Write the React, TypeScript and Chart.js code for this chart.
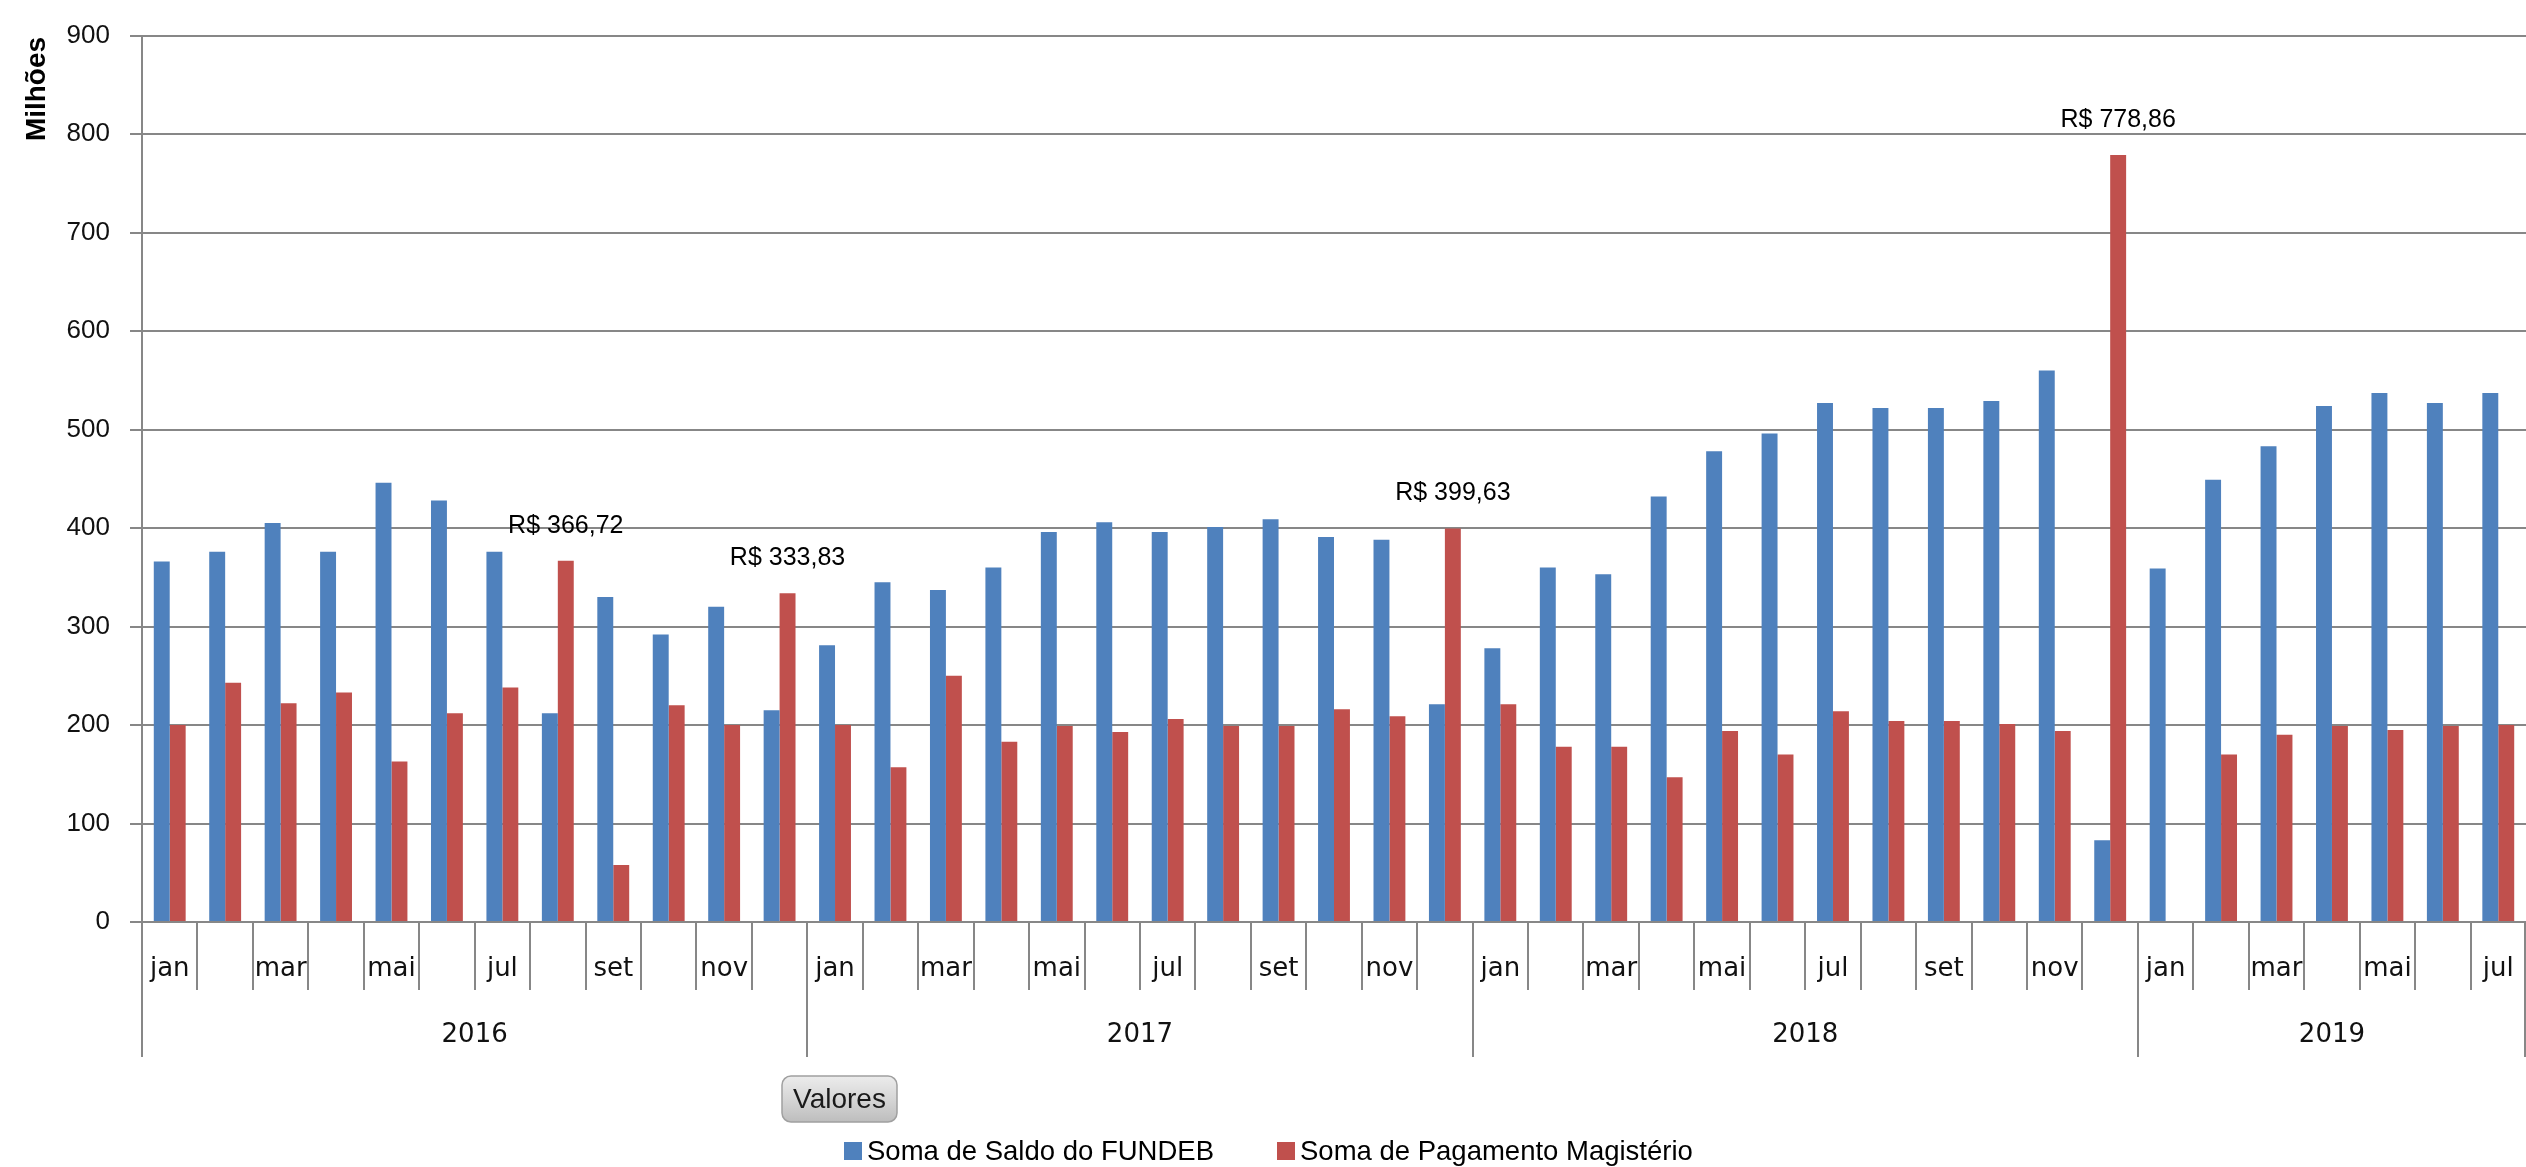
import React, { useEffect, useRef } from 'react';
import { Chart, registerables } from 'chart.js';

Chart.register(...registerables);

// ---- data ----
const years = ['2016', '2017', '2018', '2019'];
const monthNames = ['jan', 'fev', 'mar', 'abr', 'mai', 'jun', 'jul', 'ago', 'set', 'out', 'nov', 'dez'];
const monthsPerYear = [12, 12, 12, 7];

const saldoFundeb = [
  366, 376, 405, 376, 446, 428, 376, 212, 330, 292, 320, 215,
  281, 345, 337, 360, 396, 406, 396, 401, 409, 391, 388, 221,
  278, 360, 353, 432, 478, 496, 527, 522, 522, 529, 560, 83,
  359, 449, 483, 524, 537, 527, 537,
];
const pagamentoMagisterio = [
  200, 243, 222, 233, 163, 212, 238, 366.72, 58, 220, 200, 333.83,
  200, 157, 250, 183, 199, 193, 206, 199, 199, 216, 209, 399.63,
  221, 178, 178, 147, 194, 170, 214, 204, 204, 201, 194, 778.86,
  null, 170, 190, 199, 195, 199, 200,
];
const annotatedPoints = [7, 11, 23, 35];
const seriesNames = ['Soma de Saldo do FUNDEB', 'Soma de Pagamento Magistério'];
const seriesColors = ['#4F81BD', '#C0504D'];
const yAxisTitle = 'Milhões';
const fieldButton = 'Valores';

const categories: { month: string; year: string }[] = [];
years.forEach((y, yi) => {
  for (let m = 0; m < monthsPerYear[yi]; m++) categories.push({ month: monthNames[m], year: y });
});
const labels = categories.map((c) => `${c.month} ${c.year}`);

const fmtBRL = (v: number) => 'R$ ' + v.toFixed(2).replace('.', ',');

const GRID = '#878787';

const decorPlugin = {
  id: 'excelDecor',
  afterDraw(chart: any) {
    const ctx = chart.ctx as CanvasRenderingContext2D;
    const xs = chart.scales.x;
    const area = chart.chartArea;
    const n = labels.length;
    const step = xs.getPixelForValue(1) - xs.getPixelForValue(0);
    const half = step / 2;
    const bottom = area.bottom;

    ctx.save();
    // separators
    ctx.strokeStyle = GRID;
    ctx.lineWidth = 2;
    const yearStarts: number[] = [];
    let acc = 0;
    monthsPerYear.forEach((c) => { yearStarts.push(acc); acc += c; });
    yearStarts.push(acc);
    for (let i = 0; i <= n; i++) {
      const x = Math.round(xs.getPixelForValue(i) - half);
      const xx = Math.min(x, chart.width - 1);
      const isYear = yearStarts.includes(i);
      ctx.beginPath();
      ctx.moveTo(xx, bottom);
      ctx.lineTo(xx, bottom + (isYear ? 135 : 68));
      ctx.stroke();
    }

    // month labels
    ctx.fillStyle = '#111';
    ctx.font = '26px "DejaVu Sans", sans-serif';
    ctx.textAlign = 'center';
    ctx.textBaseline = 'middle';
    categories.forEach((c, i) => {
      const mi = monthNames.indexOf(c.month);
      if (mi % 2 === 0) {
        ctx.fillText(c.month, xs.getPixelForValue(i), bottom + 47);
      }
    });
    // year labels
    years.forEach((y, yi) => {
      const x0 = xs.getPixelForValue(yearStarts[yi]) - half;
      const x1 = xs.getPixelForValue(yearStarts[yi + 1] - 1) + half;
      ctx.fillText(y, (x0 + x1) / 2, bottom + 113);
    });

    // data labels
    const meta = chart.getDatasetMeta(1);
    ctx.font = '25px "Liberation Sans", Arial, sans-serif';
    ctx.fillStyle = '#000';
    annotatedPoints.forEach((i) => {
      const el = meta.data[i];
      const v = pagamentoMagisterio[i];
      if (!el || v == null) return;
      ctx.fillText(fmtBRL(v), el.x, el.y - 35);
    });

    // y-axis title
    ctx.save();
    ctx.translate(37.5, 89);
    ctx.rotate(-Math.PI / 2);
    ctx.font = 'bold 28px "Liberation Sans", Arial, sans-serif';
    ctx.fillStyle = '#000';
    ctx.textAlign = 'center';
    ctx.textBaseline = 'middle';
    ctx.fillText(yAxisTitle, 0, 0);
    ctx.restore();

    // field button "Valores"
    const bx = 782, by = 1076, bw = 115, bh = 46, r = 9;
    const g = ctx.createLinearGradient(0, by, 0, by + bh);
    g.addColorStop(0, '#ececec');
    g.addColorStop(0.5, '#d6d6d6');
    g.addColorStop(1, '#bdbdbd');
    ctx.beginPath();
    ctx.moveTo(bx + r, by);
    ctx.arcTo(bx + bw, by, bx + bw, by + bh, r);
    ctx.arcTo(bx + bw, by + bh, bx, by + bh, r);
    ctx.arcTo(bx, by + bh, bx, by, r);
    ctx.arcTo(bx, by, bx + bw, by, r);
    ctx.closePath();
    ctx.fillStyle = g;
    ctx.fill();
    ctx.strokeStyle = '#a0a0a0';
    ctx.lineWidth = 1.5;
    ctx.stroke();
    ctx.fillStyle = '#1a1a1a';
    ctx.font = '28px "Liberation Sans", Arial, sans-serif';
    ctx.textAlign = 'center';
    ctx.fillText(fieldButton, bx + bw / 2, by + bh / 2 + 1);

    // legend
    const legendX = [844, 1277];
    ctx.font = '27.5px "Liberation Sans", Arial, sans-serif';
    ctx.textAlign = 'left';
    seriesNames.forEach((name, i) => {
      ctx.fillStyle = seriesColors[i];
      ctx.fillRect(legendX[i], 1142, 18, 18);
      ctx.fillStyle = '#000';
      ctx.fillText(name, legendX[i] + 23, 1152);
    });

    ctx.restore();
  },
};

export default function App() {
  const canvasRef = useRef<HTMLCanvasElement | null>(null);

  useEffect(() => {
    document.body.style.margin = '0';
    document.body.style.overflow = 'hidden';
    const canvas = canvasRef.current;
    if (!canvas) return;
    const chart = new Chart(canvas, {
      type: 'bar',
      data: {
        labels,
        datasets: [
          {
            label: seriesNames[0],
            data: saldoFundeb,
            backgroundColor: seriesColors[0],
            categoryPercentage: 0.575,
            barPercentage: 1.0,
          },
          {
            label: seriesNames[1],
            data: pagamentoMagisterio,
            backgroundColor: seriesColors[1],
            categoryPercentage: 0.575,
            barPercentage: 1.0,
          },
        ],
      },
      options: {
        responsive: false,
        maintainAspectRatio: false,
        animation: false,
        devicePixelRatio: 1,
        layout: { padding: { top: 21, right: 0, left: 0, bottom: 0 } },
        plugins: {
          legend: { display: false },
          tooltip: { enabled: false },
        },
        scales: {
          x: {
            display: true,
            grid: { display: false, drawTicks: false },
            ticks: { display: false },
            border: { display: false },
            afterFit: (s: any) => { s.height = 245; },
          },
          y: {
            min: 0,
            max: 900,
            ticks: {
              stepSize: 100,
              color: '#111',
              padding: 20,
              font: { family: '"Liberation Sans", Arial, sans-serif', size: 26 },
            },
            grid: { color: GRID, lineWidth: 2, tickLength: 12, drawTicks: true, tickColor: GRID },
            border: { display: true, color: GRID, width: 2 },
            afterFit: (s: any) => { s.width = 142; },
          },
        },
      },
      plugins: [decorPlugin],
    });
    return () => chart.destroy();
  }, []);

  return (
    <div style={{ width: 2526, height: 1167 }}>
      <canvas ref={canvasRef} width={2526} height={1167} style={{ display: 'block' }} />
    </div>
  );
}
